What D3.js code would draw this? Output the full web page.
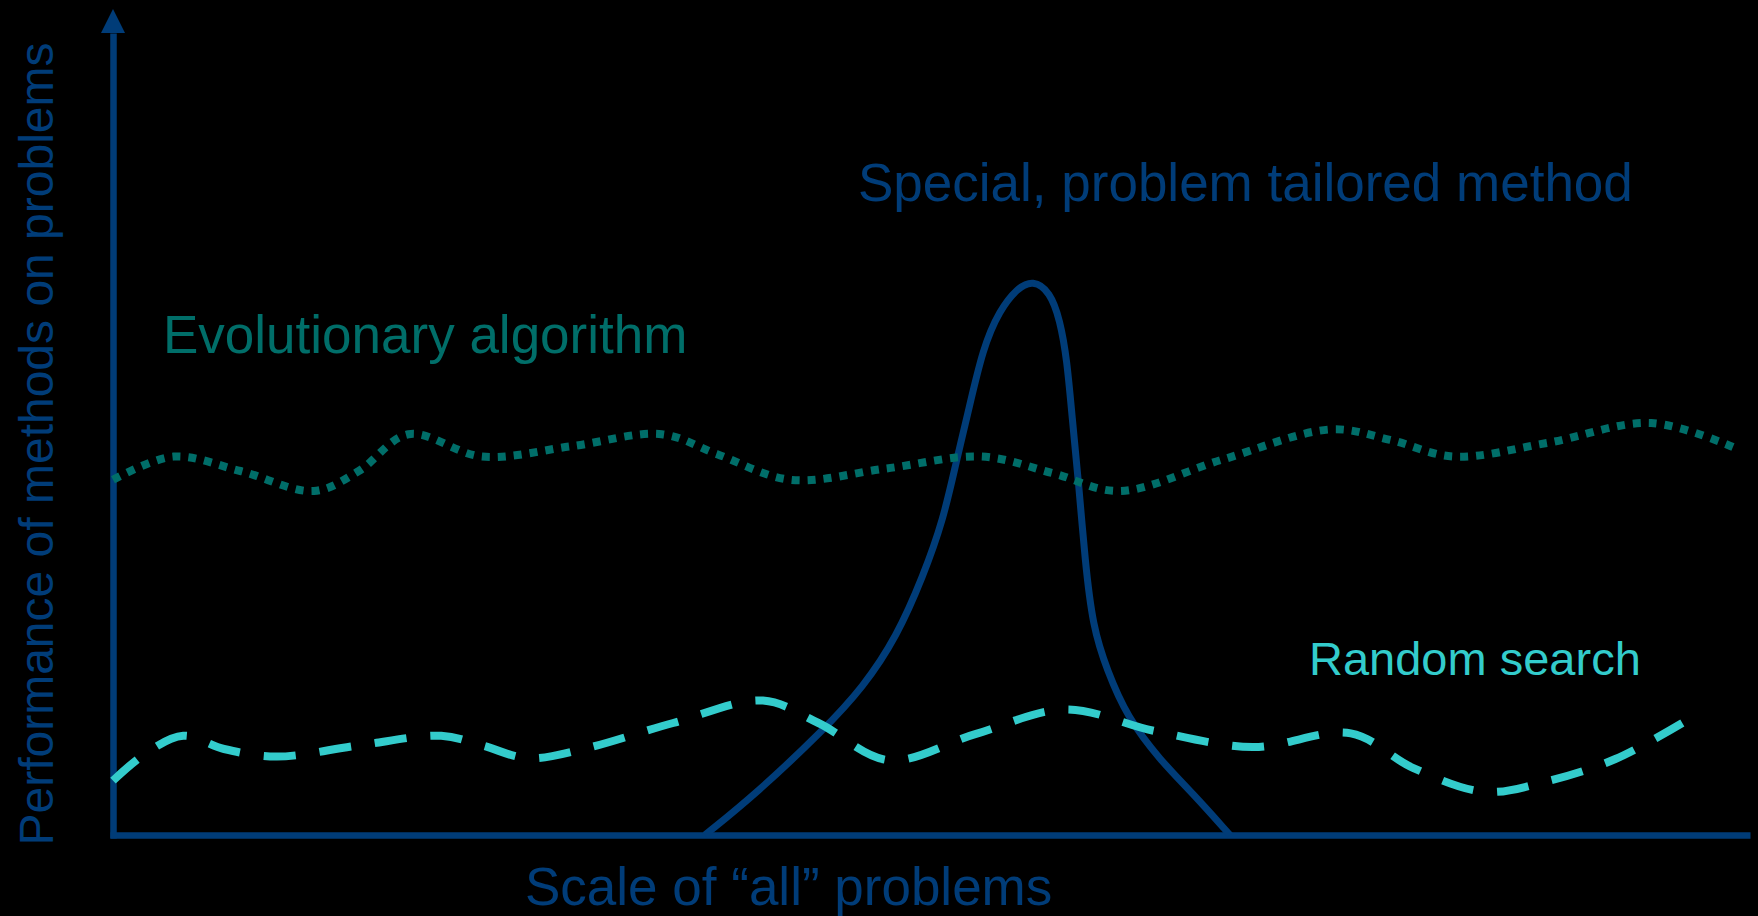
<!DOCTYPE html>
<html>
<head>
<meta charset="utf-8">
<script src="https://cdn.jsdelivr.net/npm/d3@7"></script>
<style>
  html, body { margin: 0; padding: 0; background: #000; }
  svg { display: block; }
  text { font-family: "Liberation Sans", Arial, sans-serif; }
</style>
</head>
<body>
<script>
// Performance of three kinds of method across the range of all problems.
// x: position on the problem scale (0–100), y: performance (0–100).

const eaX = [0, 3.7, 7.8, 12.3, 15.05, 18.1, 22.6, 28.1, 33.6, 37.0, 41.5, 47.3, 53.2, 57.6, 61.6, 67.9, 74.6, 78.2, 82.1, 87.8, 94.2, 99.2];
const eaY = [44.4, 47.3, 45.5, 43.0, 45.5, 50.1, 47.3, 48.6, 50.1, 47.6, 44.4, 45.8, 47.3, 45.2, 43.0, 46.9, 50.7, 49.4, 47.3, 49.0, 51.5, 48.5];

const rsX = [0, 2.0, 4.3, 6.8, 10.0, 15.05, 20.1, 22.6, 25.4, 28.8, 34.3, 39.8, 43.2, 47.5, 52.8, 58.3, 63.8, 69.8, 75.8, 79.6, 84.0, 87.8, 92.0, 96.1];
const rsY = [6.8, 10.2, 12.4, 10.75, 9.8, 11.2, 12.4, 11.2, 9.6, 10.75, 14.0, 16.8, 14.0, 9.35, 12.6, 15.7, 13.0, 11.0, 12.7, 8.4, 5.4, 6.7, 9.5, 14.0];

const spX = [36.25, 39.4, 43.5, 45.95, 48.0, 49.6, 50.85, 51.66, 52.3, 53.28, 54.3, 55.34, 56.34, 57.38, 57.99, 58.42, 58.73, 59.13, 59.52, 60.0, 60.87, 62.1, 64.1, 66.1, 68.4];
const spY = [0, 5.2, 13.1, 18.5, 24.8, 32.3, 39.4, 46.9, 52.25, 61.0, 65.6, 68.3, 69.4, 67.9, 64.4, 59.4, 52.25, 44.1, 34.4, 26.0, 20.6, 14.75, 9.4, 5.25, 0];

const axisTitleX = "Scale of \u201call\u201d problems";
const axisTitleY = "Performance of methods on problems";
const labelEA = "Evolutionary algorithm";
const labelRS = "Random search";
const labelSP = "Special, problem tailored method";

const W = 1758, H = 916;
const BLUE = "#003c78", TEAL = "#006e69", CYAN = "#33cccc";

const svg = d3.select("body").append("svg")
  .attr("width", W).attr("height", H)
  .style("background", "#000");

const x = d3.scaleLinear().domain([0, 100]).range([113, 1746]);
const y = d3.scaleLinear().domain([0, 100]).range([835, 35]);

// axis lines (no ticks), slightly longer than the plotting range
const xAxisScale = d3.scaleLinear().domain([0, 100]).range([110, 1750]);
const yAxisScale = d3.scaleLinear().domain([0, 100]).range([838, 33]);

const gx = svg.append("g").attr("transform", `translate(0,${y(0)})`)
  .call(d3.axisBottom(xAxisScale).tickValues([]).tickSizeOuter(0));
const gy = svg.append("g").attr("transform", `translate(${x(0)},0)`)
  .call(d3.axisLeft(yAxisScale).tickValues([]).tickSizeOuter(0));
[gx, gy].forEach(g => g.select(".domain")
  .attr("stroke", BLUE).attr("stroke-width", 6.5).attr("fill", "none"));

// arrowhead on the vertical axis
const tipY = yAxisScale(100) - 24;
svg.append("path")
  .attr("d", `M${x(0)},${tipY}L${x(0) + 12},${yAxisScale(100)}L${x(0) - 12},${yAxisScale(100)}Z`)
  .attr("fill", BLUE);

const toPts = (xs, ys) => xs.map((v, i) => [v, ys[i]]);

const lineSmooth = d3.line().x(d => x(d[0])).y(d => y(d[1])).curve(d3.curveCatmullRom.alpha(0.5));
const lineBasis = d3.line().x(d => x(d[0])).y(d => y(d[1])).curve(d3.curveBasis);

// special, problem tailored method
svg.append("path")
  .attr("d", lineBasis(toPts(spX, spY)))
  .attr("fill", "none").attr("stroke", BLUE).attr("stroke-width", 7)
  .attr("stroke-linejoin", "round");

// evolutionary algorithm (square dots)
svg.append("path")
  .attr("d", lineSmooth(toPts(eaX, eaY)))
  .attr("fill", "none").attr("stroke", TEAL).attr("stroke-width", 8)
  .attr("stroke-dasharray", "8 8");

// random search (dashes)
svg.append("path")
  .attr("d", lineSmooth(toPts(rsX, rsY)))
  .attr("fill", "none").attr("stroke", CYAN).attr("stroke-width", 8)
  .attr("stroke-dasharray", "32 24");

// labels
svg.append("text").attr("x", 858).attr("y", 201)
  .attr("font-size", 53).attr("fill", BLUE).text(labelSP);
svg.append("text").attr("x", 163).attr("y", 353)
  .attr("font-size", 53).attr("fill", TEAL).text(labelEA);
svg.append("text").attr("x", 1309).attr("y", 675)
  .attr("font-size", 47).attr("fill", CYAN).text(labelRS);
svg.append("text").attr("x", 525).attr("y", 905)
  .attr("font-size", 53).attr("fill", BLUE).text(axisTitleX);
svg.append("text")
  .attr("transform", "translate(53,444) rotate(-90)")
  .attr("text-anchor", "middle")
  .attr("font-size", 48).attr("fill", BLUE).text(axisTitleY);
</script>
</body>
</html>
